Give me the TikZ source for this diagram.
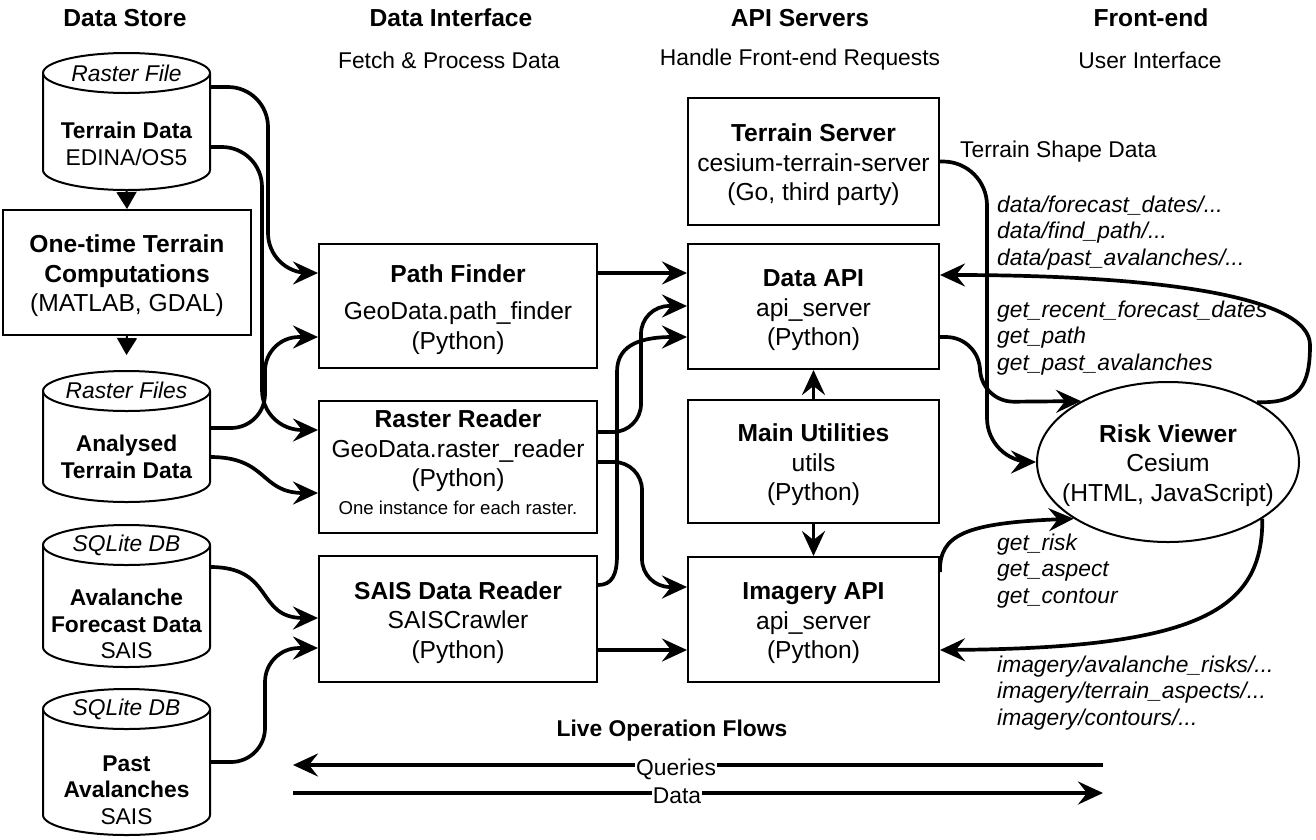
\documentclass[tikz,border=0pt]{standalone}
\usepackage{fontspec}
\setmainfont{Liberation Sans}
\usetikzlibrary{arrows.meta,shapes.geometric}
\newcommand\fsm{\fontsize{22.8pt}{26.5pt}\selectfont}
\newcommand\fbg{\fontsize{24.6pt}{29.5pt}\selectfont}
\newcommand\fnote{\fontsize{18.6pt}{22pt}\selectfont}
\newcommand\upstrut{\rule{0pt}{25pt}}
\newcommand\dnstrut{\rule[-10pt]{0pt}{10pt}}
\newcommand\dbcyl[4]{%
  \pgfmathsetmacro\cL{#2-83.5}%
  \pgfmathsetmacro\cR{#2+83.5}%
  \pgfmathsetmacro\cT{#3+20}%
  \pgfmathsetmacro\cB{#4-20}%
  \draw[cylline] (\cL,\cT) -- (\cL,\cB) .. controls (\cL,\cB+11) and (#2-46.1,#4) .. (#2,#4) .. controls (#2+46.1,#4) and (\cR,\cB+11) .. (\cR,\cB) -- (\cR,\cT) .. controls (\cR,\cT-11) and (#2+46.1,#3) .. (#2,#3) .. controls (#2-46.1,#3) and (\cL,\cT-11) .. (\cL,\cT) -- cycle;
  \draw[cylline, fill=none] (\cL,\cT) .. controls (\cL,\cT+11) and (#2-46.1,\cT+20) .. (#2,\cT+20) .. controls (#2+46.1,\cT+20) and (\cR,\cT+11) .. (\cR,\cT);
  \node[inner sep=0pt, minimum width=167pt, minimum height={#4-#3}] (#1) at (#2,{(#3+#4)/2}) {};
}
\begin{document}
\begin{tikzpicture}[x=1pt,y=-1pt,
  box/.style={draw=black, line width=2pt, fill=white, align=center, inner sep=0pt, font=\fbg},
  cylline/.style={draw=black, line width=2pt, fill=white},
  flow/.style={line width=3.7pt, -{Stealth[length=25pt,width=23pt,inset=9pt]}},
  tri/.style={line width=2pt, -{Triangle[length=17pt,width=20pt]}},
  hdr/.style={font=\fbg\bfseries, inner sep=0pt},
  sub/.style={font=\fsm, inner sep=0pt},
  lbl/.style={font=\fsm\itshape, align=left, anchor=west, inner sep=0pt},
  ctxt/.style={font=\fsm, align=center, inner sep=0pt},
]
\fill[white] (0,0) rectangle (1316,839);
\useasboundingbox (0,0) rectangle (1316,839);

% headers
\node[hdr] (h1) at (125,18) {Data Store};
\node[hdr] (h2) at (451,18) {Data Interface};
\node[hdr] (h3) at (800,18) {API Servers};
\node[hdr] (h4) at (1151,18) {Front-end};
\node[sub] (s2) at (449,60) {Fetch \& Process Data};
\node[sub] (s3) at (800,60) {Handle Front-end Requests};
\node[sub] (s4) at (1150,60) {User Interface};

% data store cylinders
\dbcyl{c1}{126.5}{53}{190}
\dbcyl{c2}{126.5}{371}{502}
\dbcyl{c3}{126.5}{525}{667}
\dbcyl{c4}{126.5}{689}{835}
\node[ctxt, font=\fsm\itshape] (c1cap) at (126.5,73) {Raster File};
\node[ctxt] (c1body) at (126.5,144) {\textbf{Terrain Data}\\EDINA/OS5};
\node[ctxt, font=\fsm\itshape] (c2cap) at (126.5,390) {Raster Files};
\node[ctxt] (c2body) at (126.5,457) {\textbf{Analysed}\\\textbf{Terrain Data}};
\node[ctxt, font=\fsm\itshape] (c3cap) at (126.5,545) {SQLite DB};
\node[ctxt] (c3body) at (126.5,624) {\textbf{Avalanche}\\\textbf{Forecast Data}\\SAIS};
\node[ctxt, font=\fsm\itshape] (c4cap) at (126.5,709) {SQLite DB};
\node[ctxt] (c4body) at (126.5,790) {\textbf{Past}\\\textbf{Avalanches}\\SAIS};

% boxes
\node[box, minimum width=248pt, minimum height=125pt] (ot) at (127,272.5) {\upstrut\textbf{One-time Terrain}\\\textbf{Computations}\\(MATLAB, GDAL)};
\node[box, minimum width=278pt, minimum height=124pt] (pf) at (458,306) {\upstrut\textbf{Path Finder}\\[8pt]GeoData.path\_finder\\(Python)};
\node[box, minimum width=278pt, minimum height=132pt] (rr) at (458,467) {\textbf{Raster Reader}\\GeoData.raster\_reader\\(Python)\\[-2pt]{\fnote One instance for each raster.}\dnstrut};
\node[box, minimum width=278pt, minimum height=126pt] (sais) at (458,619) {\upstrut\textbf{SAIS Data Reader}\\SAISCrawler\\(Python)};
\node[box, minimum width=251pt, minimum height=127pt] (ts) at (813.5,161.5) {\upstrut\textbf{Terrain Server}\\cesium-terrain-server\\(Go, third party)};
\node[box, minimum width=251pt, minimum height=125pt] (dapi) at (813.5,306.5) {\upstrut\textbf{Data API}\\api\_server\\(Python)};
\node[box, minimum width=251pt, minimum height=123pt] (mu) at (813.5,461.5) {\upstrut\textbf{Main Utilities}\\utils\\(Python)};
\node[box, minimum width=251pt, minimum height=125pt] (iapi) at (813.5,619.5) {\upstrut\textbf{Imagery API}\\api\_server\\(Python)};
\node[draw=black, line width=2pt, fill=white, ellipse, inner sep=0pt, minimum width=262pt, minimum height=160pt] (rv) at (1168,462) {};
\node[ctxt, font=\fbg] (rvtxt) at (1168,462) {\upstrut\textbf{Risk Viewer}\\Cesium\\(HTML, JavaScript)};

% left column arrows
\draw[tri] (c1.south) -- (ot.north);
\coordinate (c2in) at (126.5,355);
\draw[tri] (ot.south) -- (c2in);

% data store -> data interface
\draw[flow, rounded corners=40pt] (c1.east |- 0,87) -| (268,273) -- (pf.west |- 0,273);
\draw[flow, rounded corners=40pt] (c1.east |- 0,147) -| (262,430) -- (rr.west |- 0,430);
\draw[flow, rounded corners=34pt] (c2.east |- 0,428) -| (265,337) -- (pf.west |- 0,337);
\draw[flow] (c2.east |- 0,457) .. controls (268,457) and (260,493) .. (rr.west |- 0,493);
\draw[flow] (c3.east |- 0,567) .. controls (275,567) and (255,618) .. (sais.west |- 0,618);
\draw[flow, rounded corners=34pt] (c4.east |- 0,762) -| (265,648) -- (sais.west |- 0,648);

% data interface -> api servers
\draw[flow] (pf.east |- 0,273) -- (dapi.west |- 0,273);
\draw[flow, rounded corners=28pt] (rr.east |- 0,432) -| (641,306) -- (dapi.west |- 0,306);
\draw[flow] (sais.east |- 0,585) .. controls (612,585) and (617,575) .. (617,555) -- (617,372) .. controls (617,348) and (635,337) .. (dapi.west |- 0,337);
\draw[flow, rounded corners=28pt] (rr.east |- 0,462) -| (642,587) -- (iapi.west |- 0,587);
\draw[flow] (sais.east |- 0,650) -- (iapi.west |- 0,650);
\draw[flow] (mu.north) -- (dapi.south);
\draw[flow] (mu.south) -- (iapi.north);

% api servers <-> front-end
\draw[flow, rounded corners=44pt] (ts.east) -| (987,462) -- (rv.west);
\draw[flow, rounded corners=34pt] (dapi.east |- 0,337) -| (980,402) -- (rv.145);
\draw[flow] (rv.34) .. controls (1300,404) and (1310,385) .. (1310,345) .. controls (1310,295) and (1150,275) .. (dapi.east |- 0,275);
\draw[flow] (iapi.east |- 0,572) .. controls (939,535) and (965,523) .. (rv.211);
\draw[flow] (rv.329) .. controls (1263,610) and (1200,648) .. (iapi.east |- 0,650);

% labels
\node[lbl, font=\fsm] (tsd) at (960,152) {Terrain Shape Data};
\node[lbl] (l1) at (997,233) {data/forecast\_dates/...\\data/find\_path/...\\data/past\_avalanches/...};
\node[lbl] (l2) at (997,338) {get\_recent\_forecast\_dates\\get\_path\\get\_past\_avalanches};
\node[lbl] (l3) at (997,571) {get\_risk\\get\_aspect\\get\_contour};
\node[lbl] (l4) at (997,693) {imagery/avalanche\_risks/...\\imagery/terrain\_aspects/...\\imagery/contours/...};

% legend
\node[font=\fsm\bfseries, inner sep=0pt] (lg) at (672,731) {Live Operation Flows};
\coordinate (qR) at (1103,765);
\coordinate (qL) at (293,765);
\draw[flow] (qR) -- (qL);
\node[font=\fsm, fill=white, inner sep=1pt] (qlab) at (676,769) {Queries};
\coordinate (dL) at (293,793);
\coordinate (dR) at (1103,793);
\draw[flow] (dL) -- (dR);
\node[font=\fsm, fill=white, inner sep=1pt] (dlab) at (677,796) {Data};
\end{tikzpicture}
\end{document}
